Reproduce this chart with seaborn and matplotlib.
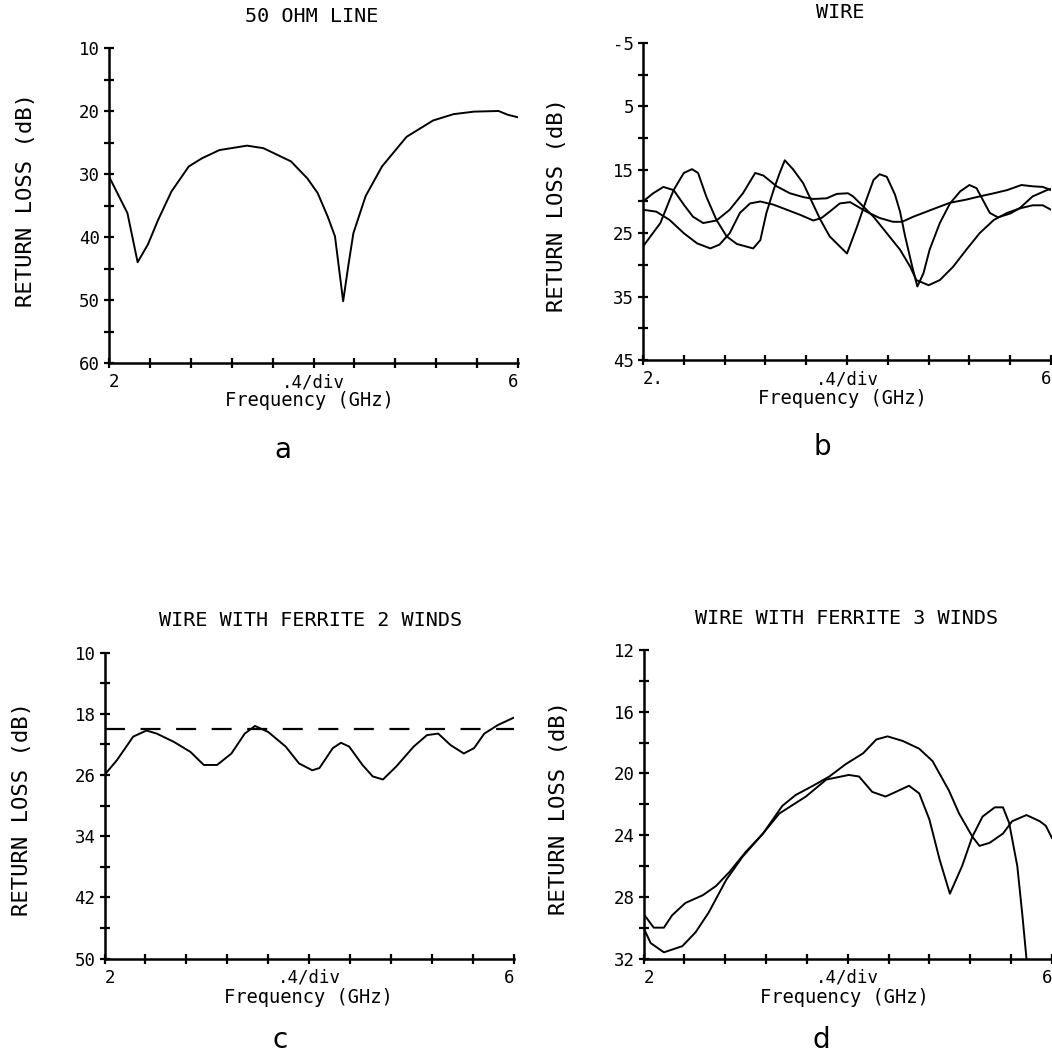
import numpy as np
import pandas as pd
import matplotlib
matplotlib.use("Agg")
import matplotlib.pyplot as plt
import seaborn as sns

# ---------------- data ----------------
# Panel a: 50 OHM LINE
a_freq = [2.00, 2.18, 2.28, 2.38, 2.48, 2.61, 2.78, 2.91, 3.08, 3.35, 3.51, 3.78, 3.94, 4.04,
          4.14, 4.21, 4.29, 4.34, 4.39, 4.51, 4.67, 4.91, 5.17, 5.37, 5.57, 5.81, 5.90, 6.00]
a_rl = [30.4, 36.2, 44.0, 41.2, 37.3, 32.8, 28.8, 27.5, 26.2, 25.5, 25.9, 28.0, 30.7, 33.0,
        36.8, 39.9, 50.2, 44.6, 39.4, 33.5, 28.8, 24.1, 21.5, 20.5, 20.1, 20.0, 20.6, 21.0]

# Panel b: WIRE (three traces)
b1_freq = [2.00, 2.17, 2.30, 2.40, 2.48, 2.54, 2.62, 2.72, 2.82, 2.92, 3.08, 3.15, 3.21, 3.28,
           3.34, 3.39, 3.47, 3.57, 3.64, 3.74, 3.83, 3.93, 4.00, 4.10, 4.19, 4.26, 4.32, 4.39,
           4.47, 4.52, 4.57, 4.64, 4.69, 4.75, 4.81, 4.91, 5.01, 5.11, 5.20, 5.27, 5.33, 5.40,
           5.48, 5.60, 5.69, 5.82, 5.96, 6.00]
b1_rl = [27.1, 23.4, 18.2, 15.5, 14.9, 15.5, 19.2, 22.9, 25.5, 26.7, 27.4, 26.1, 21.8, 18.2,
         15.5, 13.5, 14.9, 17.1, 19.5, 22.9, 25.5, 27.1, 28.2, 23.9, 19.7, 16.6, 15.7, 16.1,
         18.9, 21.6, 25.5, 30.3, 33.4, 31.3, 27.6, 23.4, 20.3, 18.4, 17.4, 17.9, 19.7, 21.8,
         22.5, 21.9, 21.1, 19.2, 18.2, 18.0]

b2_freq = [2.00, 2.10, 2.20, 2.30, 2.40, 2.49, 2.59, 2.72, 2.85, 2.98, 3.10, 3.18, 3.31, 3.44,
           3.57, 3.67, 3.80, 3.90, 4.01, 4.06, 4.16, 4.26, 4.39, 4.52, 4.62, 4.68, 4.80, 4.91,
           5.04, 5.17, 5.30, 5.44, 5.57, 5.69, 5.82, 5.92, 6.00]
b2_rl = [20.0, 18.7, 17.7, 18.2, 20.5, 22.4, 23.4, 23.0, 21.3, 18.7, 15.5, 15.9, 17.6, 18.7,
         19.3, 19.6, 19.5, 18.8, 18.7, 19.2, 20.8, 22.4, 25.0, 27.6, 30.3, 32.4, 33.2, 32.4,
         30.3, 27.6, 25.0, 22.9, 21.8, 21.1, 20.6, 20.6, 21.3]

b3_freq = [2.00, 2.13, 2.26, 2.40, 2.53, 2.66, 2.75, 2.85, 2.95, 3.05, 3.15, 3.28, 3.41, 3.54,
           3.67, 3.75, 3.83, 3.93, 4.03, 4.19, 4.32, 4.45, 4.54, 4.65, 4.78, 4.91, 5.01, 5.17,
           5.30, 5.44, 5.57, 5.71, 5.82, 5.92, 6.00]
b3_rl = [21.3, 21.6, 22.9, 25.0, 26.6, 27.4, 26.8, 25.0, 21.8, 20.3, 20.0, 20.5, 21.3, 22.1,
         23.0, 22.6, 21.6, 20.3, 20.1, 21.6, 22.6, 23.2, 23.2, 22.4, 21.6, 20.8, 20.2, 19.7,
         19.2, 18.7, 18.2, 17.4, 17.6, 17.7, 18.2]

# Panel c: WIRE WITH FERRITE 2 WINDS
c_freq = [2.00, 2.12, 2.28, 2.41, 2.51, 2.68, 2.84, 2.97, 3.10, 3.24, 3.37, 3.47, 3.60, 3.77,
          3.90, 4.03, 4.10, 4.23, 4.31, 4.39, 4.52, 4.62, 4.72, 4.85, 5.02, 5.15, 5.26, 5.38,
          5.51, 5.61, 5.71, 5.84, 6.00]
c_rl = [26.0, 24.1, 21.0, 20.2, 20.6, 21.7, 23.0, 24.7, 24.7, 23.2, 20.6, 19.6, 20.4, 22.3,
        24.5, 25.4, 25.1, 22.5, 21.8, 22.3, 24.7, 26.2, 26.6, 24.9, 22.3, 20.8, 20.6, 22.1,
        23.2, 22.5, 20.6, 19.5, 18.5]
c_ref_level = 20.0

# Panel d: WIRE WITH FERRITE 3 WINDS (two traces)
d1_freq = [2.00, 2.10, 2.20, 2.28, 2.41, 2.58, 2.71, 2.84, 3.00, 3.17, 3.36, 3.49, 3.66, 3.82,
           3.98, 4.15, 4.28, 4.39, 4.54, 4.70, 4.83, 4.99, 5.09, 5.22, 5.29, 5.39, 5.52, 5.61,
           5.75, 5.88, 5.94, 6.00]
d1_rl = [29.1, 30.0, 30.0, 29.2, 28.4, 27.9, 27.3, 26.4, 25.1, 23.9, 22.1, 21.4, 20.8, 20.2,
         19.4, 18.7, 17.8, 17.6, 17.9, 18.4, 19.2, 21.1, 22.6, 24.1, 24.7, 24.5, 23.9, 23.1,
         22.7, 23.1, 23.4, 24.2]

d2_freq = [2.00, 2.07, 2.20, 2.38, 2.51, 2.64, 2.81, 2.97, 3.17, 3.33, 3.59, 3.79, 4.01, 4.11,
           4.24, 4.37, 4.47, 4.60, 4.70, 4.80, 4.90, 5.00, 5.12, 5.22, 5.32, 5.44, 5.52, 5.58,
           5.66, 5.71, 5.75]
d2_rl = [30.0, 31.0, 31.6, 31.2, 30.3, 29.0, 26.9, 25.4, 23.9, 22.6, 21.5, 20.4, 20.1, 20.2,
         21.2, 21.5, 21.2, 20.8, 21.3, 23.0, 25.6, 27.8, 26.0, 24.1, 22.8, 22.2, 22.2, 23.2,
         26.0, 29.2, 32.0]

titles = ["50 OHM LINE", "WIRE", "WIRE WITH FERRITE 2 WINDS", "WIRE WITH FERRITE 3 WINDS"]
panel_letters = ["a", "b", "c", "d"]
ylabel_text = "RETURN LOSS (dB)"
xlabel_text = "Frequency (GHz)"
x_ticks = [2.0, 2.4, 2.8, 3.2, 3.6, 4.0, 4.4, 4.8, 5.2, 5.6, 6.0]
x_ticklabels_std = ["2", "", "", "", "", ".4/div", "", "", "", "", "6"]
x_ticklabels_b = ["2.", "", "", "", "", ".4/div", "", "", "", "", "6"]
a_yticks = [10, 15, 20, 25, 30, 35, 40, 45, 50, 55, 60]
a_ylabels = ["10", "", "20", "", "30", "", "40", "", "50", "", "60"]
b_yticks = [-5, 0, 5, 10, 15, 20, 25, 30, 35, 40, 45]
b_ylabels = ["-5", "", "5", "", "15", "", "25", "", "35", "", "45"]
c_yticks = [10, 14, 18, 22, 26, 30, 34, 38, 42, 46, 50]
c_ylabels = ["10", "", "18", "", "26", "", "34", "", "42", "", "50"]
d_yticks = [12, 14, 16, 18, 20, 22, 24, 26, 28, 30, 32]
d_ylabels = ["12", "", "16", "", "20", "", "24", "", "28", "", "32"]

# ---------------- styling ----------------
sns.set_theme(style="ticks", rc={
    "axes.edgecolor": "black",
    "axes.linewidth": 1.8,
    "text.color": "black",
    "axes.labelcolor": "black",
    "xtick.color": "black",
    "ytick.color": "black",
    "xtick.bottom": True,
    "ytick.left": True,
})
plt.rcParams["font.family"] = ["DejaVu Sans Mono", "DejaVu Sans"]

W, H = 1052, 1056
fig = plt.figure(figsize=(W / 100, H / 100), dpi=100)
fig.patch.set_facecolor("white")


def px_axes(left, right, top, bottom):
    return fig.add_axes([left / W, 1 - bottom / H, (right - left) / W, (bottom - top) / H])


ax_a = px_axes(109, 518, 48, 363)
ax_b = px_axes(643, 1051, 43, 360)
ax_c = px_axes(104.5, 514, 652.5, 958.5)
ax_d = px_axes(643.5, 1052, 650, 958.5)

LW = 1.4


def curve(ax, fx, ry):
    df = pd.DataFrame({"freq": fx, "rl": ry})
    sns.lineplot(data=df, x="freq", y="rl", ax=ax, color="black", lw=LW,
                 estimator=None, sort=False, legend=False)


curve(ax_a, a_freq, a_rl)
curve(ax_b, b1_freq, b1_rl)
curve(ax_b, b2_freq, b2_rl)
curve(ax_b, b3_freq, b3_rl)
curve(ax_c, c_freq, c_rl)
ax_c.axhline(c_ref_level, color="black", lw=1.6, linestyle=(0, (9, 7)))
curve(ax_d, d1_freq, d1_rl)
curve(ax_d, d2_freq, d2_rl)

setup = [
    (ax_a, (60, 10), a_yticks, a_ylabels, x_ticklabels_std,
     (0.496, 1.075), (-0.202, 0.517), (0.491, -0.118)),
    (ax_b, (45, -5), b_yticks, b_ylabels, x_ticklabels_b,
     (0.483, 1.070), (-0.211, 0.489), (0.488, -0.123)),
    (ax_c, (50, 10), c_yticks, c_ylabels, x_ticklabels_std,
     (0.502, 1.078), (-0.2015, 0.490), (0.497, -0.129)),
    (ax_d, (32, 12), d_yticks, d_ylabels, x_ticklabels_std,
     (0.496, 1.075), (-0.207, 0.488), (0.491, -0.125)),
]

for (ax, ylim, yt, yl, xl, tpos, ylpos, xlpos), title in zip(setup, titles):
    ax.set_xlim(2, 6)
    ax.set_ylim(*ylim)
    ax.set_yticks(yt, labels=yl)
    ax.set_xticks(x_ticks, labels=xl)
    ax.tick_params(axis="both", which="major", direction="inout", length=7, width=1.6,
                   labelsize=12.5, colors="black", bottom=True, left=True,
                   top=False, right=False)
    ax.tick_params(axis="y", pad=3)
    ax.tick_params(axis="x", pad=4)
    xtl = ax.get_xticklabels()
    xtl[0].set_ha("left")
    xtl[-1].set_ha("right")
    for s in ("top", "right"):
        ax.spines[s].set_visible(False)
    ax.set_facecolor("white")
    ax.set_title(title, fontsize=14.5, y=tpos[1], va="center")
    ax.title.set_x(tpos[0])
    ax.set_ylabel(ylabel_text, fontsize=16)
    ax.yaxis.set_label_coords(*ylpos)
    ax.yaxis.label.set_va("center")
    ax.set_xlabel(xlabel_text, fontsize=13.5)
    ax.xaxis.set_label_coords(*xlpos)
    ax.xaxis.label.set_va("center")

letter_pos = [(283, 450), (822, 447), (280, 1040), (821, 1040)]
for (lx, ly), letter in zip(letter_pos, panel_letters):
    fig.text(lx / W, 1 - ly / H, letter, ha="center", va="center",
             fontsize=20, family="DejaVu Sans", color="black")

fig.savefig("out.png", dpi=100, facecolor="white")
